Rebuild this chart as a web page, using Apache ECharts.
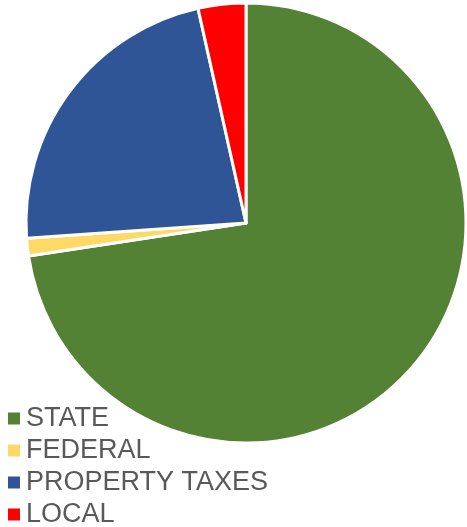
<!DOCTYPE html>
<html>
<head>
<meta charset="utf-8">
<style>
  html, body { margin: 0; padding: 0; background: #ffffff; }
  #chart { width: 467px; height: 527px; }
</style>
<script src="https://cdn.jsdelivr.net/npm/echarts@6/dist/echarts.min.js"></script>
</head>
<body>
<div id="chart"></div>
<script>
// Revenue sources, percent share
const categories = ['STATE', 'FEDERAL', 'PROPERTY TAXES', 'LOCAL'];
const shares = [72.6, 1.3, 22.6, 3.5];
const colors = ['#548235', '#FFD966', '#2F5597', '#FF0000'];

const chart = echarts.init(document.getElementById('chart'), null, { renderer: 'canvas' });

chart.setOption({
  animation: false,
  color: colors,
  legend: {
    orient: 'vertical',
    left: 6,
    top: 405,
    height: 125,
    padding: 0,
    itemWidth: 14,
    itemHeight: 14,
    itemGap: 5,
    icon: 'rect',
    data: categories,
    textStyle: {
      color: '#595959',
      fontFamily: "'Liberation Sans', Arial, sans-serif",
      fontSize: 27,
      lineHeight: 27,
      padding: [0, 0, 0, 0]
    }
  },
  series: [{
    type: 'pie',
    center: [246, 223],
    radius: [0, 220],
    startAngle: 90,
    clockwise: true,
    label: { show: false },
    labelLine: { show: false },
    emphasis: { disabled: true },
    itemStyle: { borderColor: '#ffffff', borderWidth: 3 },
    data: categories.map((name, i) => ({ name, value: shares[i] }))
  }]
});
</script>
</body>
</html>
